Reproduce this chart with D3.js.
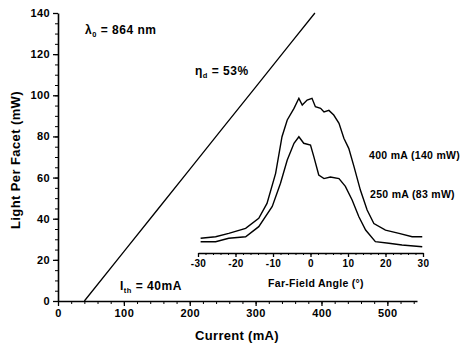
<!DOCTYPE html>
<html><head><meta charset="utf-8">
<script src="https://cdn.jsdelivr.net/npm/d3@7"></script>
<style>
body{margin:0;background:#fff;}
text{font-family:"Liberation Sans",Arial,sans-serif;fill:#000;}
</style></head>
<body><svg id="c" width="464" height="348"></svg>
<script>
// Main L-I curve
const currentMA = [40, 100, 150, 200, 250, 300, 350, 390];
const powerMW   = [0, 24, 44, 64, 84, 104, 124, 140];
const mainXTicks = [0, 100, 200, 300, 400, 500];
const mainYTicks = [0, 20, 40, 60, 80, 100, 120, 140];

// Inset far-field profiles (arbitrary intensity units)
const angle400 = [-29.3,-25.3,-21.8,-17.3,-13.8,-11.6,-9.3,-7.6,-6.2,-4.4,-3.1,-2.2,-0.9,0.4,1.3,2.7,3.6,4.9,6.2,7.6,8.9,10.2,11.6,13.3,15.1,16.9,20,23.6,27.1,29.8];
const int400   = [0.095,0.105,0.127,0.159,0.224,0.32,0.514,0.75,0.858,0.933,0.998,0.955,0.987,0.998,0.944,0.933,0.91,0.92,0.89,0.837,0.74,0.675,0.557,0.406,0.277,0.19,0.148,0.127,0.105,0.105];
const angle250 = [-29.3,-25.3,-21.8,-17.3,-13.8,-10.2,-8,-6.2,-4.4,-3.1,-1.8,0,0.9,2.2,3.6,5.3,7.6,9.3,11.1,12.9,14.7,17.3,20.9,24.4,29.8];
const int250   = [0.073,0.073,0.095,0.105,0.17,0.3,0.45,0.6,0.708,0.75,0.708,0.697,0.62,0.503,0.48,0.49,0.48,0.43,0.342,0.234,0.148,0.073,0.063,0.052,0.04];
const insetXTicks = [-30, -20, -10, 0, 10, 20, 30];

const svg = d3.select("#c");
const x = d3.scaleLinear().domain([0, 545]).range([58, 417]);
const y = d3.scaleLinear().domain([0, 140]).range([301, 13]);
const ix = d3.scaleLinear().domain([-30, 30]).range([198, 423]);
const iy = d3.scaleLinear().domain([0, 1]).range([253, 98]);

function styleAxis(g, size){
  g.select(".domain").attr("stroke","#000").attr("stroke-width",1.6);
  g.selectAll(".tick line").attr("stroke","#000").attr("stroke-width",1.3);
  g.selectAll(".tick text").style("font-size",size).style("font-weight","bold")
    .style("font-family","Liberation Sans, Arial, sans-serif").style("letter-spacing","0.4px");
}

// minor ticks
svg.append("g").attr("transform","translate(0,301)")
  .call(d3.axisBottom(x).tickValues(d3.range(0,541,20)).tickSize(3).tickFormat(""))
  .call(g=>{g.select(".domain").remove();g.selectAll("line").attr("stroke","#000");});
svg.append("g").attr("transform","translate(58,0)")
  .call(d3.axisLeft(y).tickValues(d3.range(0,141,5)).tickSize(3).tickFormat(""))
  .call(g=>{g.select(".domain").remove();g.selectAll("line").attr("stroke","#000");});

svg.append("g").attr("transform","translate(0,301)")
  .call(d3.axisBottom(x).tickValues(mainXTicks).tickSize(5).tickSizeOuter(0).tickPadding(3))
  .call(g=>styleAxis(g,"11px"));
svg.append("g").attr("transform","translate(58,0)")
  .call(d3.axisLeft(y).tickValues(mainYTicks).tickSize(5).tickSizeOuter(0).tickPadding(3))
  .call(g=>styleAxis(g,"11px"));

// L-I line
const li = currentMA.map((c,i)=>[c, powerMW[i]]);
svg.append("path").datum(li)
  .attr("d", d3.line().x(d=>x(d[0])).y(d=>y(d[1])))
  .attr("fill","none").attr("stroke","#000").attr("stroke-width",1.3);

// Axis titles
svg.append("text").attr("x",237).attr("y",340).attr("text-anchor","middle")
  .style("font-size","13px").style("font-weight","bold").style("letter-spacing","0.3px").text("Current (mA)");
svg.append("text").attr("transform","translate(20,160) rotate(-90)").attr("text-anchor","middle")
  .style("font-size","13px").style("font-weight","bold").style("letter-spacing","0.4px").text("Light Per Facet (mW)");

// Annotations
function sub(xp, yp, main, s, rest){
  const t = svg.append("text").attr("x",xp).attr("y",yp).style("font-size","12px")
    .style("font-weight","bold").style("letter-spacing","0.5px");
  t.append("tspan").text(main);
  t.append("tspan").attr("dy",3).style("font-size","7.5px").text(s);
  t.append("tspan").attr("dy",-3).text(rest);
}
sub(85, 34, "λ", "0", " = 864 nm");
sub(195, 75, "η", "d", " = 53%");
sub(120, 290, "I", "th", " = 40mA");

// Inset
svg.append("g").attr("transform","translate(0,253)")
  .call(d3.axisBottom(ix).tickValues(d3.range(-30,31,2)).tickSize(2).tickFormat(""))
  .call(g=>{g.select(".domain").remove();g.selectAll("line").attr("stroke","#000");});
svg.append("g").attr("transform","translate(0,253)")
  .call(d3.axisBottom(ix).tickValues(insetXTicks).tickFormat(d=>String(d)).tickSize(4).tickSizeOuter(0).tickPadding(3))
  .call(g=>styleAxis(g,"10px"));
svg.append("text").attr("x",316).attr("y",287).attr("text-anchor","middle")
  .style("font-size","10.5px").style("font-weight","bold").style("letter-spacing","0.3px").text("Far-Field Angle (°)");

const pline = d3.line().x(d=>ix(d[0])).y(d=>iy(d[1]));
svg.append("path").datum(angle400.map((a,i)=>[a,int400[i]]))
  .attr("d",pline).attr("fill","none").attr("stroke","#000").attr("stroke-width",1.4);
svg.append("path").datum(angle250.map((a,i)=>[a,int250[i]]))
  .attr("d",pline).attr("fill","none").attr("stroke","#000").attr("stroke-width",1.4);

svg.append("text").attr("x",369).attr("y",159).style("font-size","10.5px").style("font-weight","bold").style("letter-spacing","0.3px").text("400 mA (140 mW)");
svg.append("text").attr("x",370).attr("y",198).style("font-size","10.5px").style("font-weight","bold").style("letter-spacing","0.3px").text("250 mA (83 mW)");
</script></body></html>
